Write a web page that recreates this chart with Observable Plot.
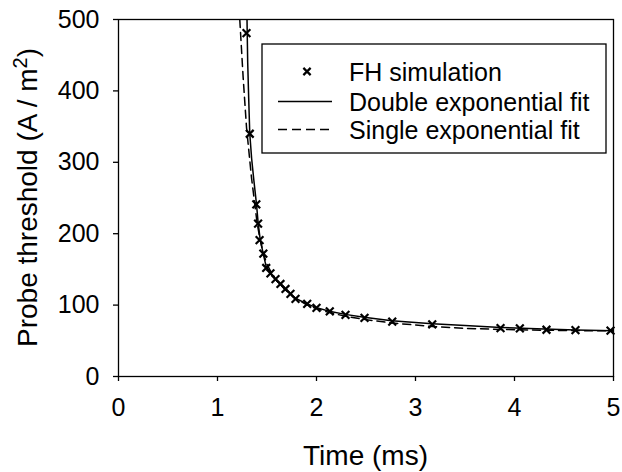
<!DOCTYPE html>
<html>
<head>
<meta charset="utf-8">
<script src="https://cdn.jsdelivr.net/npm/d3@7"></script>
<script src="https://cdn.jsdelivr.net/npm/@observablehq/plot@0.6"></script>
<style>
  html, body { margin: 0; padding: 0; background: white; }
  #chart { width: 622px; height: 472px; }
</style>
</head>
<body>
<div id="chart"></div>
<script>
// ---- data ----
const xTicks = [0, 1, 2, 3, 4, 5];
const yTicks = [0, 100, 200, 300, 400, 500];

const simTime = [1.293, 1.326, 1.392, 1.410, 1.425, 1.463, 1.492, 1.535, 1.586, 1.636, 1.687, 1.737, 1.788, 1.906, 2.0, 2.134, 2.293, 2.485, 2.765, 3.169, 3.859, 4.054, 4.323, 4.616, 4.97];
const simThreshold = [481, 340, 241, 214, 191, 172, 152, 144.5, 136.5, 129.6, 122.6, 115.6, 108.6, 101.6, 96, 91.2, 86.3, 82, 76.8, 73, 67.8, 67.3, 65.5, 65, 64.2];

const doubleTime = [1.298, 1.305, 1.315, 1.326, 1.345, 1.367, 1.394, 1.41, 1.43, 1.46, 1.49, 1.53, 1.58, 1.63, 1.68, 1.73, 1.78, 1.9, 2.0, 2.13, 2.29, 2.48, 2.76, 3.17, 3.5, 3.86, 4.3, 4.62, 5.0];
const doubleThreshold = [500, 440, 390, 340, 305, 275, 241, 216, 193, 173, 155, 145, 137, 130, 123, 116.5, 110, 102, 96.5, 91.5, 87, 83, 78, 74, 71.5, 68.8, 66.5, 65.2, 64];

const singleTime = [1.225, 1.259, 1.293, 1.343, 1.377, 1.40, 1.43, 1.46, 1.50, 1.55, 1.6, 1.68, 1.78, 1.9, 2.0, 2.13, 2.29, 2.48, 2.76, 3.17, 3.5, 3.86, 4.3, 4.62, 5.0];
const singleThreshold = [500, 419, 349, 279, 241, 215, 192, 174, 157, 144, 134, 122, 110, 100.5, 95, 89.5, 84.5, 80, 75, 70, 67.5, 65.9, 64.8, 64.3, 64];

const seriesNames = ["FH simulation", "Double exponential fit", "Single exponential fit"];
const xTitle = "Time (ms)";
const yTitleMain = "Probe threshold (A / m";
const yTitleSup = "2";
const yTitleEnd = ")";

// ---- tables built from the arrays ----
const sim = simTime.map((t, i) => ({t, v: simThreshold[i]}));
const dbl = doubleTime.map((t, i) => ({t, v: doubleThreshold[i]}));
const sgl = singleTime.map((t, i) => ({t, v: singleThreshold[i]}));

const FONT = "Arial, 'Liberation Sans', Helvetica, sans-serif";

const plot = Plot.plot({
  width: 622,
  height: 472,
  marginLeft: 118,
  marginRight: 9,
  marginTop: 19,
  marginBottom: 96,
  style: {fontFamily: FONT, fontSize: "25px", color: "black", background: "white", overflow: "visible"},
  x: {domain: [0, 5]},
  y: {domain: [0, 500]},
  marks: [
    Plot.axisX({ticks: xTicks, tickSize: 5, tickPadding: 17, label: null, tickFormat: d => String(d), stroke: "black", strokeWidth: 1.3, fill: "black", fontSize: 25}),
    Plot.axisY({ticks: yTicks, tickSize: 5, tickPadding: 14, label: null, tickFormat: d => String(d), stroke: "black", strokeWidth: 1.3, fill: "black", fontSize: 25}),
    Plot.line(sgl, {x: "t", y: "v", stroke: "black", strokeWidth: 1.5, strokeDasharray: "8,5", clip: true}),
    Plot.line(dbl, {x: "t", y: "v", stroke: "black", strokeWidth: 1.5, clip: true}),
    Plot.dot(sim, {x: "t", y: "v", symbol: "times", r: 3.6, stroke: "black", strokeWidth: 2.2}),
    Plot.frame({stroke: "black", strokeWidth: 1.3})
  ]
});

document.getElementById("chart").appendChild(plot);

// ---- titles and legend added to the same SVG ----
const svg = d3.select(plot);
const xr = plot.scale("x").range;
const yr = plot.scale("y").range;
const fLeft = Math.min(...xr), fRight = Math.max(...xr);
const fTop = Math.min(...yr), fBottom = Math.max(...yr);

svg.append("text")
  .attr("x", (fLeft + fRight) / 2)
  .attr("y", fBottom + 89)
  .attr("text-anchor", "middle")
  .attr("font-family", FONT)
  .attr("font-size", 28)
  .attr("fill", "black")
  .text(xTitle);

const yt = svg.append("text")
  .attr("transform", `translate(${fLeft - 81},${(fTop + fBottom) / 2}) rotate(-90)`)
  .attr("text-anchor", "middle")
  .attr("font-family", FONT)
  .attr("font-size", 28)
  .attr("fill", "black");
yt.append("tspan").text(yTitleMain);
yt.append("tspan").attr("dy", -10).attr("font-size", 20).text(yTitleSup);
yt.append("tspan").attr("dy", 10).text(yTitleEnd);

// legend box
const lg = svg.append("g").attr("transform", `translate(${fLeft + 144},${fTop + 25})`);
lg.append("rect")
  .attr("x", 0).attr("y", 0).attr("width", 344).attr("height", 109)
  .attr("fill", "white").attr("stroke", "black").attr("stroke-width", 1.3);
const rows = [27.5, 57.5, 85.5];
lg.append("path")
  .attr("transform", `translate(45,${rows[0]})`)
  .attr("d", d3.symbol(d3.symbolTimes, Math.PI * 3.4 * 3.4)())
  .attr("fill", "none").attr("stroke", "black").attr("stroke-width", 2.2);
lg.append("line").attr("x1", 16).attr("x2", 70).attr("y1", rows[1]).attr("y2", rows[1])
  .attr("stroke", "black").attr("stroke-width", 1.5);
lg.append("line").attr("x1", 16).attr("x2", 70).attr("y1", rows[2]).attr("y2", rows[2])
  .attr("stroke", "black").attr("stroke-width", 1.5).attr("stroke-dasharray", "9,5");
seriesNames.forEach((name, i) => {
  lg.append("text")
    .attr("x", 87).attr("y", rows[i]).attr("dy", "0.36em")
    .attr("text-anchor", "start")
    .attr("font-family", FONT).attr("font-size", 25).attr("fill", "black")
    .text(name);
});
</script>
</body>
</html>
